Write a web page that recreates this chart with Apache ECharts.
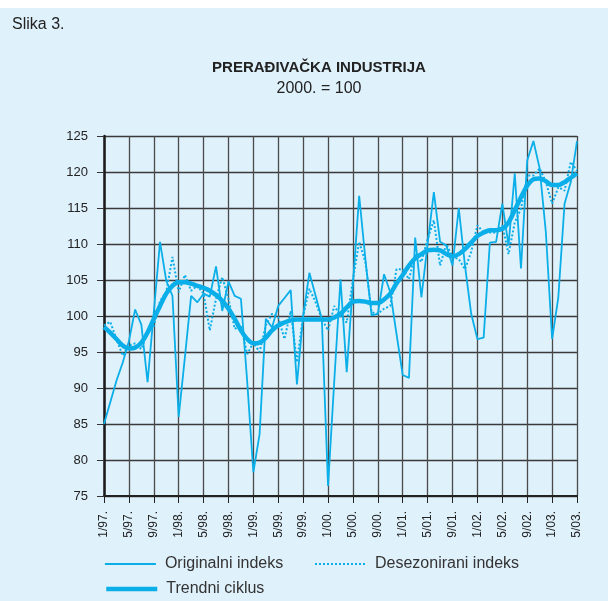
<!DOCTYPE html>
<html>
<head>
<meta charset="utf-8">
<script src="https://cdn.jsdelivr.net/npm/echarts@6/dist/echarts.min.js"></script>
<style>
  html, body { margin: 0; padding: 0; background: #fff; }
  #chart { width: 608px; height: 601px; }
</style>
</head>
<body>
<div id="chart"></div>
<script>
// mjesečni podaci 1/97 – 5/03
const years = ['97', '98', '99', '00', '01', '02', '03']
const months = []
years.forEach((y) => {
  for (let m = 1; m <= 12; m++) {
    if (y === '03' && m > 5) break
    months.push(m + '/' + y + '.')
  }
})

const originalni = [
  85.0, 88.0, 91.0, 93.5, 96.5, 100.9, 98.8, 90.8, 100.5, 110.3, 104.9, 102.8,
  86.0, 94.3, 102.8, 101.9, 103.1, 102.7, 106.9, 100.7, 104.8, 102.8, 102.4, 91.0,
  78.3, 83.6, 99.6, 98.4, 101.4, 102.5, 103.6, 90.5, 100.0, 106.0, 102.8, 99.6,
  76.4, 91.0, 105.1, 92.2, 104.5, 116.7, 107.9, 100.1, 100.3, 105.8, 103.3, 97.5,
  91.8, 91.4, 110.9, 102.6, 110.0, 117.2, 110.3, 109.8, 107.0, 115.0, 107.0, 100.3,
  96.8, 97.0, 110.2, 110.3, 115.6, 109.8, 119.8, 106.6, 121.6, 124.3, 120.5, 111.6,
  96.8, 102.6, 115.6, 118.6, 124.3
]

const desezonirani = [
  98.7, 99.2, 96.8, 94.5, 95.9, 96.2, 95.4, 97.7, 98.6, 102.1, 103.3, 108.2,
  103.3, 105.7, 103.5, 104.2, 103.1, 98.0, 102.4, 105.4, 102.4, 98.2, 98.7, 94.7,
  96.3, 95.0, 98.7, 100.3, 99.8, 96.8, 100.7, 93.6, 100.0, 103.8, 101.9, 99.6,
  98.0, 101.4, 100.0, 99.1, 105.1, 110.3, 107.5, 100.5, 100.3, 101.0, 101.4, 106.5,
  106.5, 105.1, 108.5, 107.5, 110.7, 113.3, 107.0, 110.0, 108.2, 107.9, 106.5, 108.9,
  112.6, 111.6, 111.6, 111.6, 112.6, 108.6, 113.0, 114.9, 119.5, 119.5, 120.5, 118.6,
  115.6, 117.9, 117.4, 121.4, 120.2
]

const trend = [
  98.5, 97.7, 96.8, 95.9, 95.5, 95.6, 96.3, 97.7, 99.6, 101.4, 103.1, 104.2,
  104.7, 104.7, 104.5, 104.2, 103.9, 103.5, 102.9, 102.1, 101.0, 99.6, 98.0, 96.8,
  96.2, 96.3, 97.0, 98.0, 98.7, 99.1, 99.4, 99.5, 99.5, 99.5, 99.5, 99.5,
  99.5, 99.8, 100.3, 101.2, 102.0, 102.1, 102.0, 101.8, 101.8, 102.3, 103.1, 104.5,
  105.7, 107.0, 108.0, 108.6, 109.1, 109.2, 109.1, 108.6, 108.3, 108.6, 109.3, 110.2,
  111.1, 111.6, 111.9, 111.9, 112.1, 113.0, 114.7, 116.5, 118.1, 119.0, 119.1, 118.7,
  118.2, 118.2, 118.6, 119.2, 119.8
]

const plava = '#0aaee8'
const font = 'Liberation Sans, Arial, sans-serif'

const legendItem = (name, left, top, lineWidth) => ({
  left: left,
  top: top,
  padding: 0,
  itemWidth: 51,
  itemHeight: 12,
  lineStyle: { width: lineWidth },
  textStyle: { fontSize: 16, color: '#333', fontFamily: font, padding: [0, 0, 0, 4] },
  data: [name]
})

const chart = echarts.init(document.getElementById('chart'))

const option = {
  backgroundColor: '#fff',
  textStyle: { fontFamily: font },
  graphic: [
    {
      type: 'rect',
      left: 0,
      top: 8,
      shape: { width: 608, height: 593 },
      style: { fill: '#dff1fb' },
      z: -10
    },
    {
      type: 'text',
      left: 12,
      top: 17,
      style: { text: 'Slika 3.', font: '16px ' + font, fill: '#222' }
    }
  ],
  title: {
    text: 'PRERAĐIVAČKA INDUSTRIJA',
    subtext: '2000. = 100',
    left: 314,
    textAlign: 'center',
    top: 55,
    itemGap: 6,
    textStyle: { fontSize: 15, fontWeight: 'bold', color: '#222', fontFamily: font },
    subtextStyle: { fontSize: 16, color: '#222', fontFamily: font }
  },
  legend: [
    legendItem('Originalni indeks', 104, 556, 1.8),
    legendItem('Desezonirani indeks', 314, 556, 2),
    legendItem('Trendni ciklus', 104, 581, 4.5)
  ],
  grid: { left: 104, right: 31, top: 136, bottom: 105 },
  xAxis: {
    type: 'category',
    data: months,
    boundaryGap: false,
    axisLine: { lineStyle: { color: '#222', width: 2 } },
    axisTick: { interval: 3, length: 7, lineStyle: { color: '#222' } },
    axisLabel: {
      interval: 3,
      rotate: 90,
      fontSize: 12,
      color: '#222',
      margin: 15
    },
    splitLine: { show: true, interval: 3, lineStyle: { color: '#4a4a4a', width: 1.3 } }
  },
  yAxis: {
    type: 'value',
    min: 75,
    max: 125,
    interval: 5,
    axisLine: { show: true, lineStyle: { color: '#1a1a1a', width: 2.5 } },
    axisTick: { show: true, length: 7, lineStyle: { color: '#333' } },
    axisLabel: { fontSize: 13, color: '#222', margin: 16 },
    splitLine: { lineStyle: { color: '#3a3a3a', width: 1.3 } }
  },
  series: [
    {
      name: 'Originalni indeks',
      type: 'line',
      data: originalni,
      symbol: 'none',
      lineStyle: { color: plava, width: 1.8 },
      itemStyle: { color: plava, opacity: 0 }
    },
    {
      name: 'Desezonirani indeks',
      type: 'line',
      data: desezonirani,
      symbol: 'none',
      lineStyle: { color: plava, width: 2, type: 'dotted' },
      itemStyle: { color: plava, opacity: 0 }
    },
    {
      name: 'Trendni ciklus',
      type: 'line',
      data: trend,
      symbol: 'none',
      smooth: 0.3,
      lineStyle: { color: plava, width: 4.5 },
      itemStyle: { color: plava, opacity: 0 }
    }
  ]
}

chart.setOption(option)
</script>
</body>
</html>
